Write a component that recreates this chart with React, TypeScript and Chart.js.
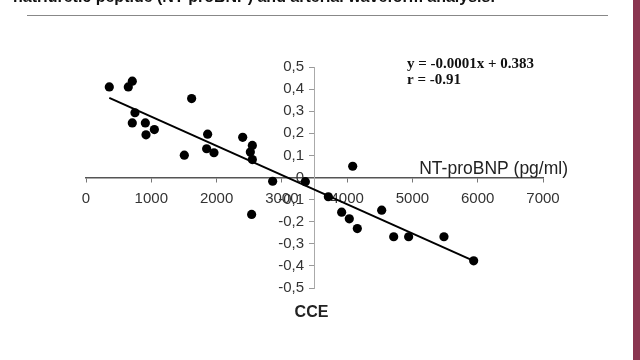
import React, { useEffect, useRef } from 'react';
import { Chart, registerables } from 'chart.js';

Chart.register(...registerables);

// NT-proBNP (pg/ml) values of each patient
const ntProBNP = [357, 648, 709, 750, 709, 909, 919, 1047, 1506, 1618, 1863, 1848, 1960, 2400, 2548, 2517, 2548, 2859, 3360, 4085, 3712, 2537, 3916, 4033, 4156, 4529, 4713, 4942, 5483, 5938];
// CCE values of each patient
const cce = [0.41, 0.41, 0.436, 0.293, 0.247, 0.247, 0.193, 0.217, 0.101, 0.357, 0.196, 0.13, 0.112, 0.182, 0.145, 0.115, 0.081, -0.017, -0.019, 0.051, -0.087, -0.167, -0.157, -0.187, -0.231, -0.148, -0.268, -0.268, -0.268, -0.377];
// regression line end points
const trendX = [357, 5938];
const trendY = [0.36, -0.377];

const xMin = 0;
const xMax = 7000;
const xStep = 1000;
const yMin = -0.5;
const yMax = 0.5;
const yStep = 0.1;
const yAxisCrossX = 3500;
const xAxisCrossY = 0;

const titleText = 'natriuretic peptide (NT-proBNP) and arterial waveform analysis.';
const equationText = 'y = -0.0001x + 0.383';
const rText = 'r = -0.91';
const xAxisTitle = 'NT-proBNP (pg/ml)';
const yAxisTitle = 'CCE';

const SANS = 'Arial, "Liberation Sans", sans-serif';
const SERIF = '"Times New Roman", "Liberation Serif", serif';

// y labels are right-aligned on the crossing axis; a small trailing gap keeps them off the tick marks
const Y_LABEL_GAP = '\u2002\u2009';
const fmtY = (v: number) => {
  const r = Math.round(v * 10) / 10;
  const s = r === 0 ? '0' : r.toFixed(1).replace('.', ',');
  return s + Y_LABEL_GAP;
};
const fmtX = (v: number) => String(Math.round(v));

const textPlugin = {
  id: 'textPlugin',
  afterDraw(chart: any) {
    const { ctx, chartArea, scales } = chart;
    const xs = scales.x;
    const ys = scales.y;
    ctx.save();
    // cut-off slide title
    ctx.fillStyle = '#111';
    ctx.font = `bold 16px ${SANS}`;
    ctx.textAlign = 'left';
    ctx.textBaseline = 'alphabetic';
    ctx.fillText(titleText, 13, 2, 485);

    // equation
    ctx.fillStyle = '#111';
    ctx.font = `bold 15px ${SERIF}`;
    ctx.textBaseline = 'middle';
    ctx.fillText(equationText, 407, chartArea.top - 3);
    ctx.fillText(rText, 407, chartArea.top + 13);

    // axis titles
    ctx.fillStyle = '#222';
    ctx.font = `17.5px ${SANS}`;
    ctx.textAlign = 'right';
    ctx.textBaseline = 'middle';
    ctx.fillText(xAxisTitle, chartArea.right + 25, ys.getPixelForValue(xAxisCrossY) - 8);

    ctx.font = `bold 16px ${SANS}`;
    ctx.textAlign = 'center';
    ctx.fillText(yAxisTitle, xs.getPixelForValue(yAxisCrossX) - 3, chartArea.bottom + 25);
    ctx.restore();
  },
};

export default function App() {
  const canvasRef = useRef<HTMLCanvasElement | null>(null);

  useEffect(() => {
    if (!canvasRef.current) return;
    const points = ntProBNP.map((x, i) => ({ x, y: cce[i] }));
    const trend = trendX.map((x, i) => ({ x, y: trendY[i] }));
    const chart = new Chart(canvasRef.current, {
      type: 'scatter',
      data: {
        datasets: [
          {
            type: 'line',
            label: 'trend',
            data: trend,
            borderColor: '#000',
            borderWidth: 2,
            pointRadius: 0,
            fill: false,
            order: 2,
          } as any,
          {
            label: 'CCE',
            data: points,
            backgroundColor: '#000',
            borderColor: '#000',
            borderWidth: 0,
            pointRadius: 4.6,
            order: 1,
          },
        ],
      },
      options: {
        animation: false,
        responsive: true,
        maintainAspectRatio: false,
        layout: { padding: { left: 86, right: 97, top: 67, bottom: 72 } },
        plugins: {
          legend: { display: false },
          tooltip: { enabled: false },
          title: { display: false },
        },
        scales: {
          x: {
            type: 'linear',
            min: xMin,
            max: xMax,
            position: { y: xAxisCrossY } as any,
            ticks: {
              stepSize: xStep,
              autoSkip: false,
              maxRotation: 0,
              color: '#333',
              padding: 8,
              font: { family: SANS, size: 15 },
              callback: (v: any) => fmtX(Number(v)),
            },
            grid: { drawOnChartArea: false, drawTicks: true, tickLength: 4, color: '#777' },
            border: { display: true, color: '#555', width: 1.5 },
          },
          y: {
            type: 'linear',
            min: yMin,
            max: yMax,
            position: { x: yAxisCrossX } as any,
            ticks: {
              stepSize: yStep,
              autoSkip: false,
              color: '#333',
              padding: 5,
              font: { family: SANS, size: 15 },
              callback: (v: any) => fmtY(Number(v)),
            },
            grid: { drawOnChartArea: false, drawTicks: true, tickLength: 5, color: '#999' },
            border: { display: true, color: '#aaa', width: 1 },
          },
        },
      },
      plugins: [textPlugin],
    });
    return () => chart.destroy();
  }, []);

  return (
    <div style={{ position: 'absolute', left: 0, top: 0, width: 640, height: 360, background: '#fff', overflow: 'hidden' }}>
      <canvas ref={canvasRef} />
      <div style={{ position: 'absolute', left: 27, top: 15, width: 581, height: 1, background: '#888' }} />
      <div style={{ position: 'absolute', left: 633, top: 0, width: 7, height: 360, background: '#8a3550' }} />
    </div>
  );
}
